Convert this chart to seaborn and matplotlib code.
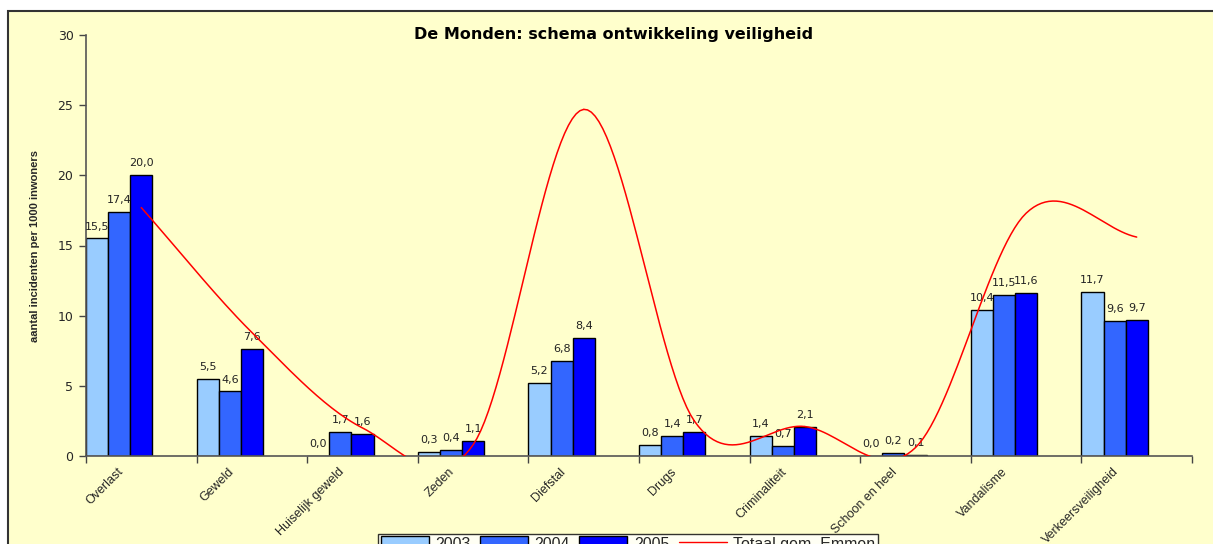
import numpy as np
import pandas as pd
import seaborn as sns
import matplotlib
matplotlib.use("Agg")
import matplotlib.pyplot as plt
from matplotlib.patches import Rectangle, Patch
from matplotlib.lines import Line2D

categories = ["Overlast", "Geweld", "Huiselijk geweld", "Zeden", "Diefstal", "Drugs",
              "Criminaliteit", "Schoon en heel", "Vandalisme", "Verkeersveiligheid"]
years = ["2003", "2004", "2005"]
v2003 = [15.5, 5.5, 0.0, 0.3, 5.2, 0.8, 1.4, 0.0, 10.4, 11.7]
v2004 = [17.4, 4.6, 1.7, 0.4, 6.8, 1.4, 0.7, 0.2, 11.5, 9.6]
v2005 = [20.0, 7.6, 1.6, 1.1, 8.4, 1.7, 2.1, 0.1, 11.6, 9.7]
emmen = [17.7, 8.8, 2.0, 0.8, 24.7, 2.5, 2.1, 0.6, 17.3, 15.6]
colors = ["#99CCFF", "#3366FF", "#0000FF"]

df = pd.DataFrame({
    "categorie": categories * 3,
    "jaar": [y for y in years for _ in categories],
    "waarde": v2003 + v2004 + v2005,
})

sns.set_style("white")
plt.rcParams["font.family"] = ["Liberation Sans", "DejaVu Sans"]

fig = plt.figure(figsize=(12.13, 5.44), dpi=100)
fig.patch.set_facecolor("white")
# chart area (runs off the right/bottom edge like the original)
fig.patches.append(Rectangle((8 / 1213, -0.1), 1.2, 1.1 - 11 / 544, transform=fig.transFigure,
                             facecolor="#FFFFCC", edgecolor="#333333", linewidth=1.5, zorder=-10))

ax = fig.add_axes([86 / 1213, 1 - 456 / 544, (1192 - 86) / 1213, (456 - 35) / 544])
ax.set_facecolor("none")
ax.set_zorder(1)

sns.barplot(data=df, x="categorie", y="waarde", hue="jaar", palette=colors, width=0.6,
            edgecolor="black", linewidth=1, ax=ax, legend=False, saturation=1)

# data labels
for cont in ax.containers:
    ax.bar_label(cont, labels=[f"{b.get_height():.1f}".replace(".", ",") for b in cont],
                 padding=5, fontsize=8, color="#222222", family="DejaVu Sans")

# smoothed line (Catmull-Rom through the category centres)
def catmull_rom(xs, ys, n=30):
    xs = np.asarray(xs, float)
    ys = np.asarray(ys, float)
    px = np.concatenate([[2 * xs[0] - xs[1]], xs, [2 * xs[-1] - xs[-2]]])
    py = np.concatenate([[2 * ys[0] - ys[1]], ys, [2 * ys[-1] - ys[-2]]])
    outx, outy = [], []
    t = np.linspace(0, 1, n)
    for i in range(1, len(px) - 2):
        for p, out in ((px, outx), (py, outy)):
            p0, p1, p2, p3 = p[i - 1], p[i], p[i + 1], p[i + 2]
            out.extend(0.5 * ((2 * p1) + (-p0 + p2) * t + (2 * p0 - 5 * p1 + 4 * p2 - p3) * t ** 2
                              + (-p0 + 3 * p1 - 3 * p2 + p3) * t ** 3))
    return np.array(outx), np.array(outy)

lx, ly = catmull_rom(np.arange(len(categories)) + 0.2, emmen)
ax.plot(lx, ly, color="#FF0000", linewidth=1.1, zorder=5)

ax.set_xlim(-0.3, len(categories) - 0.3)
ax.set_ylim(0, 30)
ax.set_yticks(range(0, 31, 5))
ax.tick_params(axis="y", length=5, width=1, color="#444444", labelsize=9, pad=4, left=True)
for lab in ax.get_yticklabels():
    lab.set_family("DejaVu Sans")
ax.set_xticks(np.arange(len(categories)) - 0.02)
ax.set_xticklabels(categories, rotation=45, ha="right", rotation_mode="anchor", fontsize=9)
ax.tick_params(axis="x", length=0, pad=7)
ax.set_xticks(np.arange(len(categories) + 1) - 0.3, minor=True)
ax.tick_params(axis="x", which="minor", length=5, width=1, color="#444444", bottom=True)
ax.set_xlabel("")
ax.set_ylabel("aantal incidenten per 1000 inwoners", fontsize=8, fontweight="bold", labelpad=13)

for s in ["top", "right"]:
    ax.spines[s].set_visible(False)
for s in ["left", "bottom"]:
    ax.spines[s].set_color("#555555")
    ax.spines[s].set_linewidth(1.2)

fig.text(614 / 1213, 1 - 34 / 544, "De Monden: schema ontwikkeling veiligheid", ha="center", va="center",
         fontsize=11.5, fontweight="bold", family="DejaVu Sans", color="black")

handles = [Patch(facecolor=c, edgecolor="black", linewidth=1) for c in colors]
handles.append(Line2D([0], [0], color="#FF0000", linewidth=1))
leg = fig.legend(handles, years + ["Totaal gem. Emmen"], loc="upper center", ncol=4,
                 bbox_to_anchor=(628 / 1213, 1 - 534 / 544), borderaxespad=0, fontsize=11.5,
                 frameon=True, fancybox=False, handlelength=3, handleheight=0.9,
                 columnspacing=0.6, handletextpad=0.4, borderpad=0.15)
leg.get_frame().set_edgecolor("black")
leg.get_frame().set_facecolor("white")
leg.get_frame().set_linewidth(1)

fig.savefig("out.png", dpi=100)
